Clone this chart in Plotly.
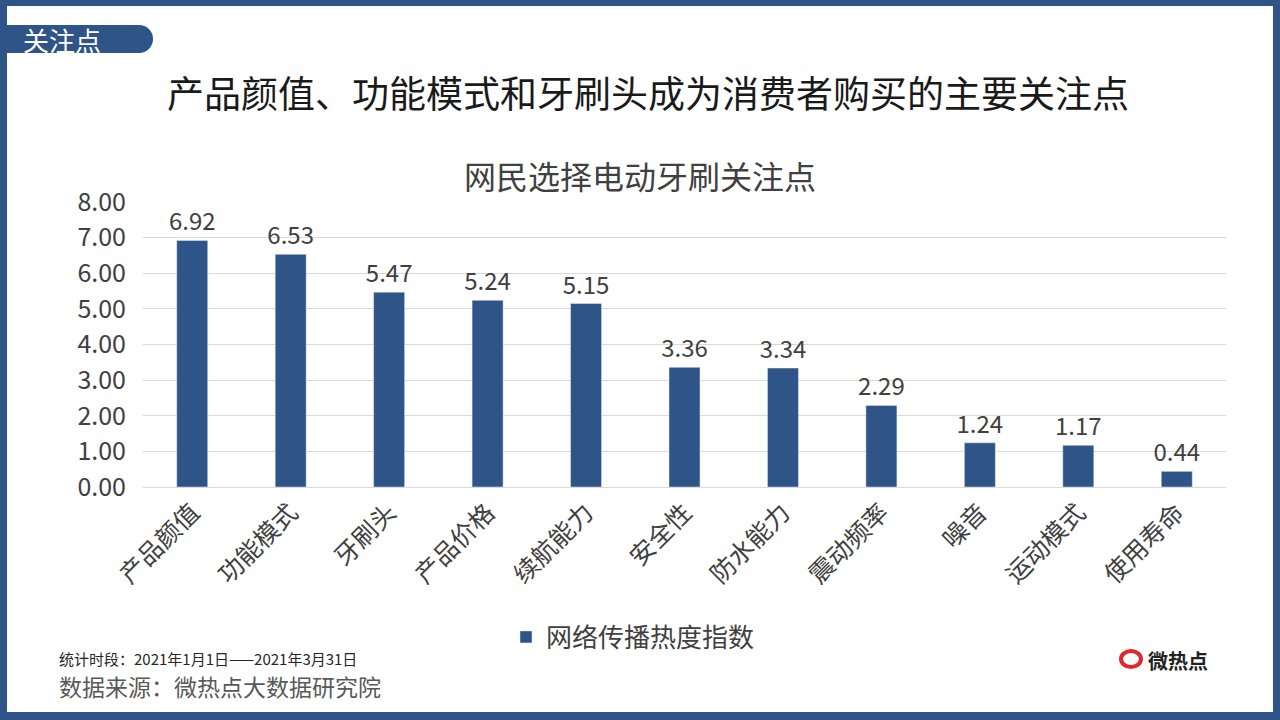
import plotly.graph_objects as go

categories = ["产品颜值", "功能模式", "牙刷头", "产品价格", "续航能力", "安全性",
              "防水能力", "震动频率", "噪音", "运动模式", "使用寿命"]
heat_index = [6.92, 6.53, 5.47, 5.24, 5.15, 3.36, 3.34, 2.29, 1.24, 1.17, 0.44]
y_ticks = [0, 1, 2, 3, 4, 5, 6, 7, 8]

W, H = 1280, 720
L, R, T, B = 143, 1226, 202, 487
blue = "#2F5487"
font = "Noto Sans CJK SC"


def px(x):
    return (x - L) / (R - L)


def py(y):
    return (B - y) / (B - T)


fig = go.Figure()
fig.add_trace(go.Bar(
    x=categories, y=heat_index, name="网络传播热度指数",
    marker_color=blue,
    texttemplate="%{y:.2f}", textposition="outside", constraintext="none",
    textfont=dict(size=24, color="#404040"),
    cliponaxis=False,
))

shapes = [
    # frame
    dict(type="rect", x0=px(0), x1=px(W), y0=py(0), y1=py(6)),
    dict(type="rect", x0=px(0), x1=px(7), y0=py(0), y1=py(H)),
    dict(type="rect", x0=px(1273), x1=px(W), y0=py(0), y1=py(H)),
    dict(type="rect", x0=px(0), x1=px(W), y0=py(712), y1=py(H)),
    # tab
    dict(type="rect", x0=px(0), x1=px(139), y0=py(25), y1=py(53)),
    dict(type="circle", x0=px(125), x1=px(153), y0=py(25), y1=py(53)),
]
for s in shapes:
    s.update(xref="paper", yref="paper", fillcolor=blue, line_width=0, layer="above")
# logo ring
shapes.append(dict(type="circle", xref="paper", yref="paper",
                   x0=px(1121), x1=px(1141), y0=py(651), y1=py(667),
                   line=dict(color="#E0282E", width=4), layer="above"))

annotations = [
    dict(text="关注点", x=px(21), y=py(39), xanchor="left", yanchor="middle",
         font=dict(size=26, color="white")),
    dict(text="产品颜值、功能模式和牙刷头成为消费者购买的主要关注点", x=px(648), y=py(92),
         xanchor="center", yanchor="middle", font=dict(size=37, color="#1a1a1a")),
    dict(text="网民选择电动牙刷关注点", x=px(640), y=py(175),
         xanchor="center", yanchor="middle", font=dict(size=32, color="#404040")),
    dict(text="统计时段：2021年1月1日——2021年3月31日", x=px(57), y=py(658),
         xanchor="left", yanchor="middle", font=dict(size=15, color="#262626")),
    dict(text="数据来源：微热点大数据研究院", x=px(57), y=py(686),
         xanchor="left", yanchor="middle", font=dict(size=23, color="#595959")),
    dict(text="<b>微热点</b>", x=px(1146), y=py(660),
         xanchor="left", yanchor="middle", font=dict(size=20, color="#222222")),
]
for a in annotations:
    a.update(xref="paper", yref="paper", showarrow=False)

fig.update_layout(
    width=W, height=H,
    margin=dict(l=L, r=W - R, t=T, b=H - B, autoexpand=False),
    paper_bgcolor="white", plot_bgcolor="white",
    font=dict(family=font, color="#404040"),
    bargap=0.685,
    showlegend=True,
    legend=dict(orientation="h", x=px(633), xanchor="center", y=py(637), yanchor="middle",
                font=dict(size=26, color="#404040")),
    shapes=shapes,
    annotations=annotations,
)
fig.update_xaxes(tickangle=-45, tickfont=dict(size=25, color="#404040"),
                 showline=True, linecolor="#d9d9d9", ticks="", fixedrange=True)
fig.update_yaxes(range=[0, 8], tickvals=y_ticks, tickformat=".2f",
                 tickfont=dict(size=25, color="#404040"),
                 gridcolor="#d9d9d9", zeroline=False, ticks="", ticklabelstandoff=16)

fig.write_html("out.html", config={"displayModeBar": False},
               post_script="document.body.style.margin='0';")
